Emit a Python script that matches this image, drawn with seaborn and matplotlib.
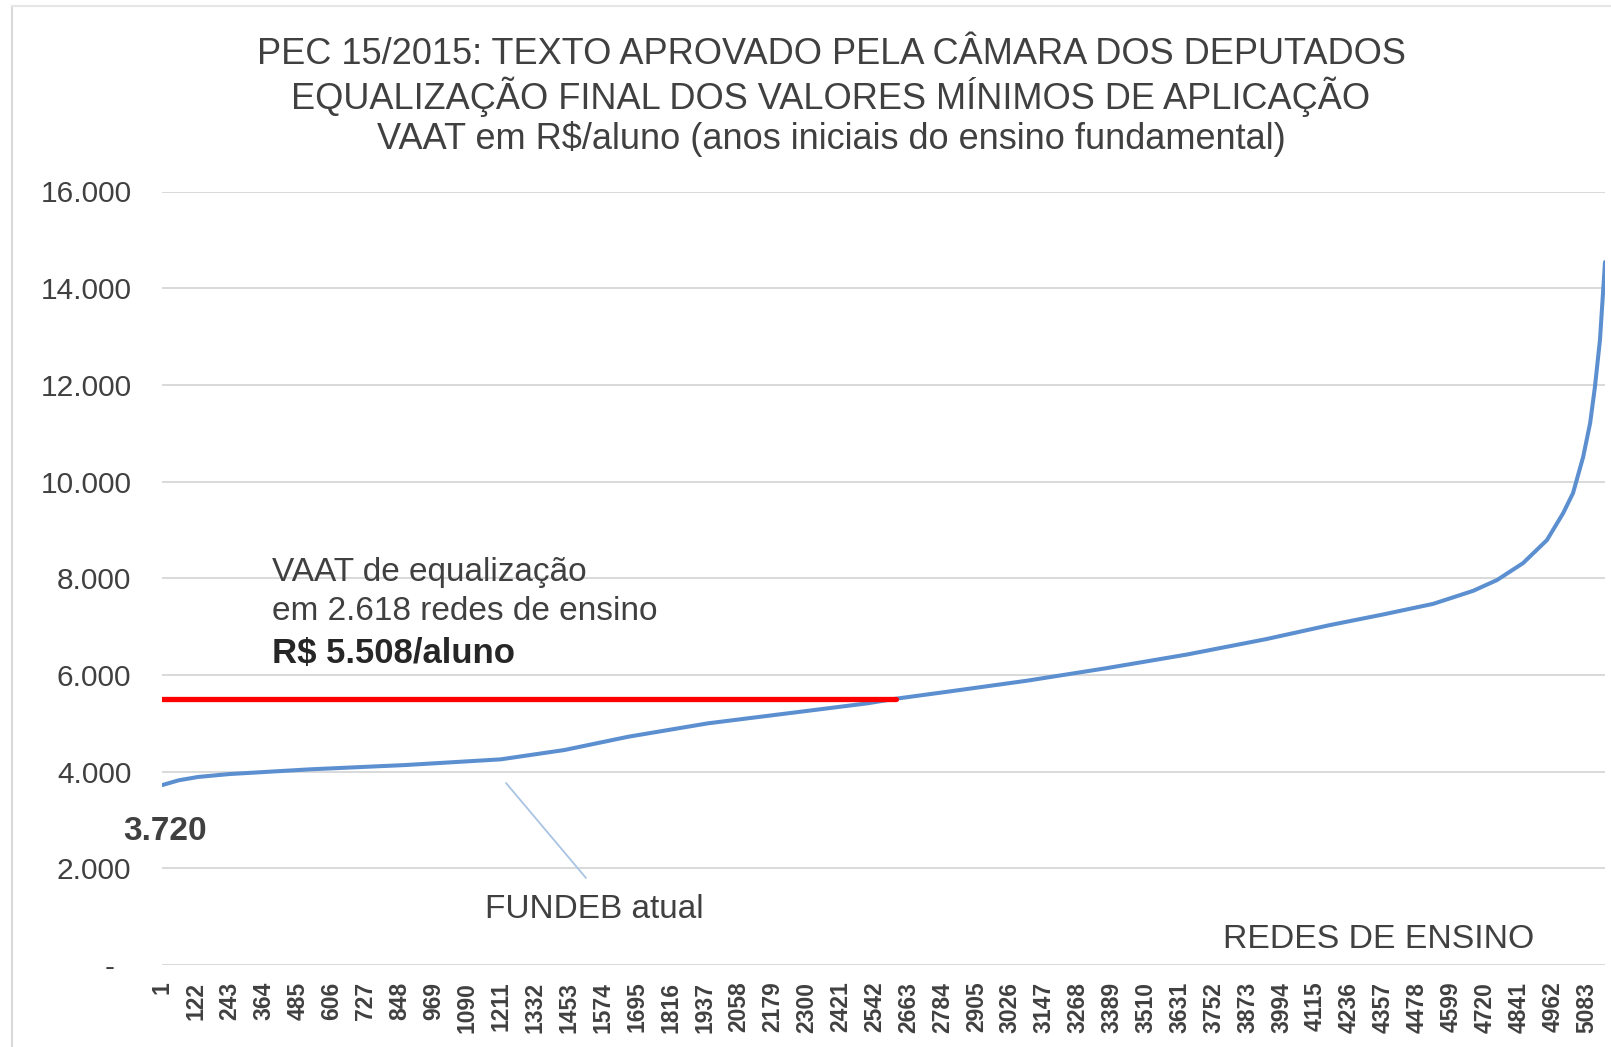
import numpy as np
import pandas as pd
import matplotlib
matplotlib.use("Agg")
import matplotlib.pyplot as plt
import seaborn as sns
from matplotlib.lines import Line2D

# ---- data ----
rede = [1, 60, 130, 242, 527, 868, 1209, 1436, 1664, 1948, 2233, 2517, 2618,
        2801, 3085, 3369, 3654, 3938, 4165, 4355, 4534, 4677, 4762, 4855, 4940,
        4998, 5033, 5069, 5094, 5111, 5129, 5147]
vaat = [3720, 3820, 3890, 3950, 4047, 4136, 4254, 4447, 4722, 4999, 5206, 5413,
        5508, 5652, 5880, 6140, 6420, 6740, 7030, 7250, 7470, 7740, 7963, 8314,
        8790, 9349, 9762, 10507, 11210, 11955, 12927, 14540]
equal_redes = 2618
equal_vaat = 5508
first_vaat = 3720
x_ticks = list(range(1, 5084, 121))
x_tick_labels = [str(t) for t in x_ticks]
y_ticks = list(range(0, 16001, 2000))
y_tick_labels = ["-  "] + [f"{v:,}".replace(",", ".") for v in y_ticks[1:]]

title_lines = ["PEC 15/2015: TEXTO APROVADO PELA CÂMARA DOS DEPUTADOS",
               "EQUALIZAÇÃO FINAL DOS VALORES MÍNIMOS DE APLICAÇÃO",
               "VAAT em R$/aluno (anos iniciais do ensino fundamental)"]

df = pd.DataFrame({"rede": rede, "vaat": vaat})
df_eq = pd.DataFrame({"rede": [1, equal_redes], "vaat": [equal_vaat, equal_vaat]})

# ---- figure ----
sns.set_theme(style="white")
plt.rcParams["font.family"] = ["Liberation Sans", "DejaVu Sans"]

W, H = 1611, 1047
fig = plt.figure(figsize=(W / 100, H / 100), dpi=100)
fig.patch.set_facecolor("white")

def fx(px):
    return px / W

def fy(py):
    return 1 - py / H

left, right, top, bottom = 162, 1605, 191.5, 965
ax = fig.add_axes([fx(left), fy(bottom), fx(right - left), (bottom - top) / H])

sns.lineplot(data=df, x="rede", y="vaat", ax=ax, color="#5B8FD0", linewidth=2.9,
             zorder=3)
sns.lineplot(data=df_eq, x="rede", y="vaat", ax=ax, color="#FF0000", linewidth=3.8,
             zorder=4)

ax.set_xlim(1, 5147)
ax.set_ylim(0, 16000)
ax.set_xlabel("")
ax.set_ylabel("")
for s in ax.spines.values():
    s.set_visible(False)
ax.set_yticks(y_ticks)
ax.set_yticklabels(y_tick_labels, fontsize=21.5, color="#404040")
ax.set_xticks(x_ticks)
ax.set_xticklabels(x_tick_labels, rotation=90, fontsize=16.5, fontweight="bold",
                   color="#404040")
ax.tick_params(axis="y", length=0, pad=22)
ax.tick_params(axis="x", length=0, pad=12)
ax.grid(axis="y", color="#D9D9D9", linewidth=1.4)
ax.grid(axis="x", visible=False)
ax.set_axisbelow(True)

# ---- title ----
for txt, py in zip(title_lines, [54, 97, 139]):
    fig.text(fx(831), fy(py), txt, ha="center", va="center", fontsize=26,
             color="#404040")

# ---- annotations ----
fig.text(fx(272), fy(573), "VAAT de equalização", ha="left", va="center",
         fontsize=24, color="#404040")
fig.text(fx(272), fy(611), "em 2.618 redes de ensino", ha="left", va="center",
         fontsize=24, color="#404040")
fig.text(fx(272), fy(653), "R$ 5.508/aluno", ha="left", va="center",
         fontsize=25, fontweight="bold", color="#262626")
fig.text(fx(123), fy(831), f"{first_vaat:,}".replace(",", "."), ha="left",
         va="center", fontsize=24, fontweight="bold", color="#404040")
fig.text(fx(485), fy(909), "FUNDEB atual", ha="left", va="center",
         fontsize=24, color="#404040")
fig.text(fx(1223), fy(940), "REDES DE ENSINO", ha="left", va="center",
         fontsize=24.3, color="#404040")

# leader line for "FUNDEB atual"
fig.add_artist(Line2D([fx(506), fx(586)], [fy(783), fy(878)], color="#A9C4E3",
                      linewidth=1.3))

# chart-area border
fig.add_artist(Line2D([fx(12), fx(12)], [fy(6), 0], color="#D9D9D9", linewidth=1.5))
fig.add_artist(Line2D([fx(12), 1], [fy(6), fy(6)], color="#E6E6E6", linewidth=1.5))

fig.savefig("out.png", dpi=100, facecolor="white")
